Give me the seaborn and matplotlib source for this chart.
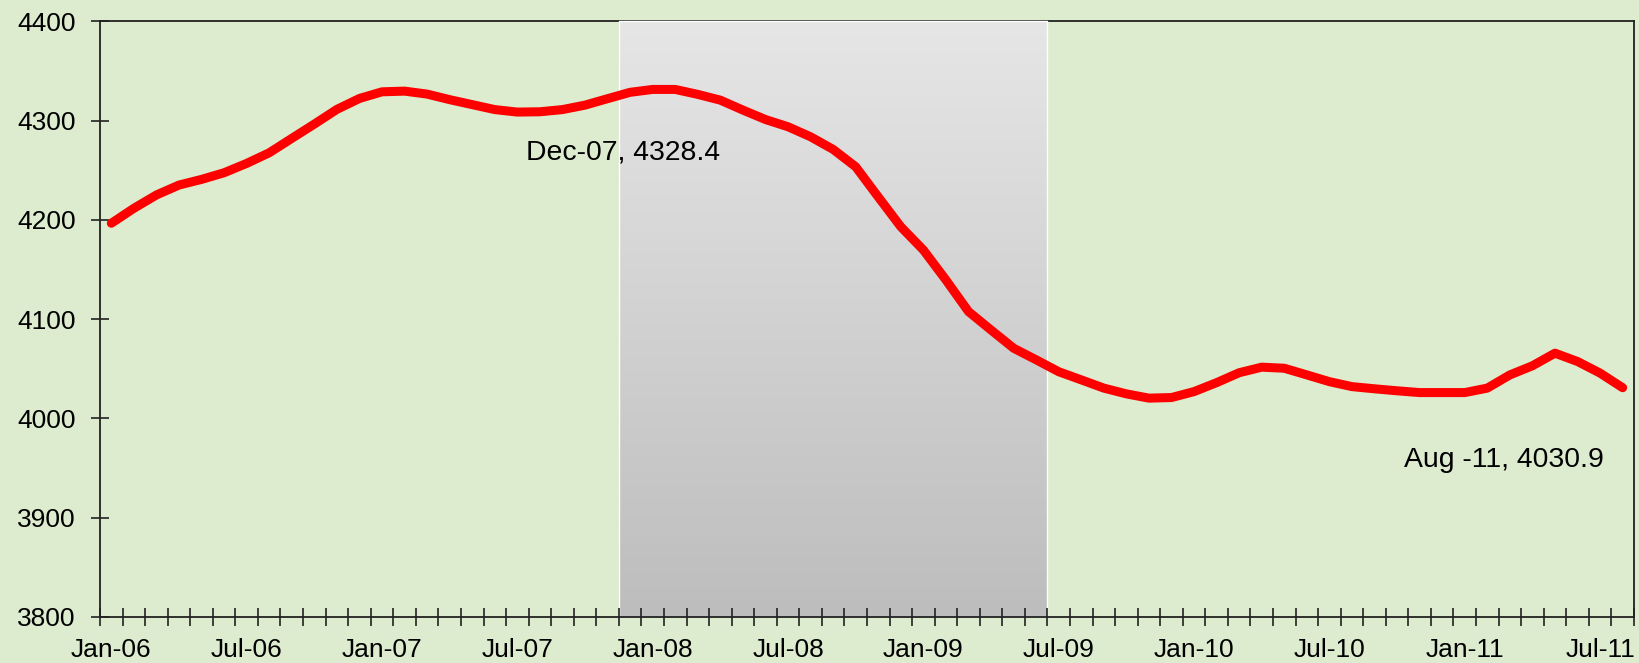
import numpy as np
import pandas as pd
import matplotlib
matplotlib.use('Agg')
import matplotlib.pyplot as plt
import seaborn as sns

# monthly values Jan-06 .. Aug-11
months = pd.date_range('2006-01-01', '2011-08-01', freq='MS')
vals_2006 = [4196.5, 4211.6, 4225.0, 4235.0, 4240.7, 4247.4, 4256.8, 4267.5, 4282.0, 4296.4, 4311.2, 4322.2]
vals_2007 = [4328.9, 4329.6, 4326.6, 4321.0, 4316.0, 4311.0, 4308.5, 4308.8, 4311.0, 4315.5, 4322.0, 4328.4]
vals_2008 = [4331.3, 4331.3, 4326.3, 4320.5, 4310.5, 4301.0, 4293.7, 4283.6, 4270.9, 4253.4, 4223.0, 4193.0]
vals_2009 = [4169.6, 4139.4, 4107.6, 4089.0, 4070.7, 4059.0, 4047.0, 4038.8, 4030.5, 4024.7, 4020.4, 4021.0]
vals_2010 = [4027.0, 4036.0, 4046.0, 4051.6, 4050.5, 4043.8, 4037.0, 4032.0, 4029.8, 4027.8, 4026.0, 4026.0]
vals_2011 = [4026.0, 4030.5, 4043.8, 4053.0, 4065.7, 4057.3, 4045.6, 4030.9]
values = vals_2006 + vals_2007 + vals_2008 + vals_2009 + vals_2010 + vals_2011

recession_start = 'Dec-07'
recession_end = 'Jun-09'
labels = [m.strftime('%b-%y') for m in months]

df = pd.DataFrame({'idx': np.arange(len(values)), 'value': values, 'label': labels})

bg = '#DDEBCF'
sns.set_theme(style='white')
plt.rcParams['font.family'] = ['Liberation Sans', 'DejaVu Sans']
plt.rcParams['text.color'] = 'black'

fig = plt.figure(figsize=(16.4, 6.63), dpi=100, facecolor=bg)
ax = fig.add_axes([0.061, 0.0694, 0.9353, 0.8986])
ax.set_facecolor(bg)

# recession shading with a vertical grey gradient (light at top)
x0 = labels.index(recession_start) - 0.5
x1 = labels.index(recession_end) + 0.5
grad = np.linspace(0, 1, 256).reshape(-1, 1)
cmap = matplotlib.colors.LinearSegmentedColormap.from_list('g', ['#E6E6E6', '#BDBDBD'])
ax.imshow(grad, extent=[x0, x1, 3800, 4400], origin='upper', aspect='auto', cmap=cmap,
          zorder=2.6, clip_on=False)
ax.plot([x0, x0, x1, x1], [3800, 4400, 4400, 3800], color='white', lw=1, zorder=2.7, clip_on=False)

sns.lineplot(data=df, x='idx', y='value', color='#FF0000', lw=6.5, ax=ax, zorder=4,
             solid_joinstyle='round', solid_capstyle='round')

ax.set_xlim(-0.5, len(values) - 0.5)
ax.set_ylim(3800, 4400)
ax.set_yticks(np.arange(3800, 4401, 100))
ax.set_xticks(df['idx'][::6])
ax.set_xticklabels(df['label'][::6])
ax.set_xticks(np.arange(-0.5, len(values), 1), minor=True)
ax.tick_params(axis='x', which='major', length=0, pad=15, labelsize=19, labelcolor='black')
ax.tick_params(axis='x', which='minor', direction='inout', length=13, width=1.2, color='#222222', bottom=True)
ax.tick_params(axis='y', direction='inout', length=13, width=1.2, color='#222222', pad=11,
               labelsize=19, labelcolor='black', left=True)
ax.set_xlabel('')
ax.set_ylabel('')
for s in ax.spines.values():
    s.set_color('#222222')
    s.set_linewidth(1.3)
ax.spines['bottom'].set_zorder(5)
ax.spines['left'].set_zorder(5)
ax.spines['right'].set_zorder(5)
ax.xaxis.set_zorder(5)

i_dec = labels.index('Dec-07')
ax.text(18.38, 4268, f'Dec-07, {values[i_dec]}', fontsize=20.4, color='black',
        ha='left', va='center', zorder=6)
ax.text(57.3, 3958, f'Aug -11, {values[-1]}', fontsize=20.4, color='black',
        ha='left', va='center', zorder=6)

fig.savefig('out.png', dpi=100, facecolor=bg)
